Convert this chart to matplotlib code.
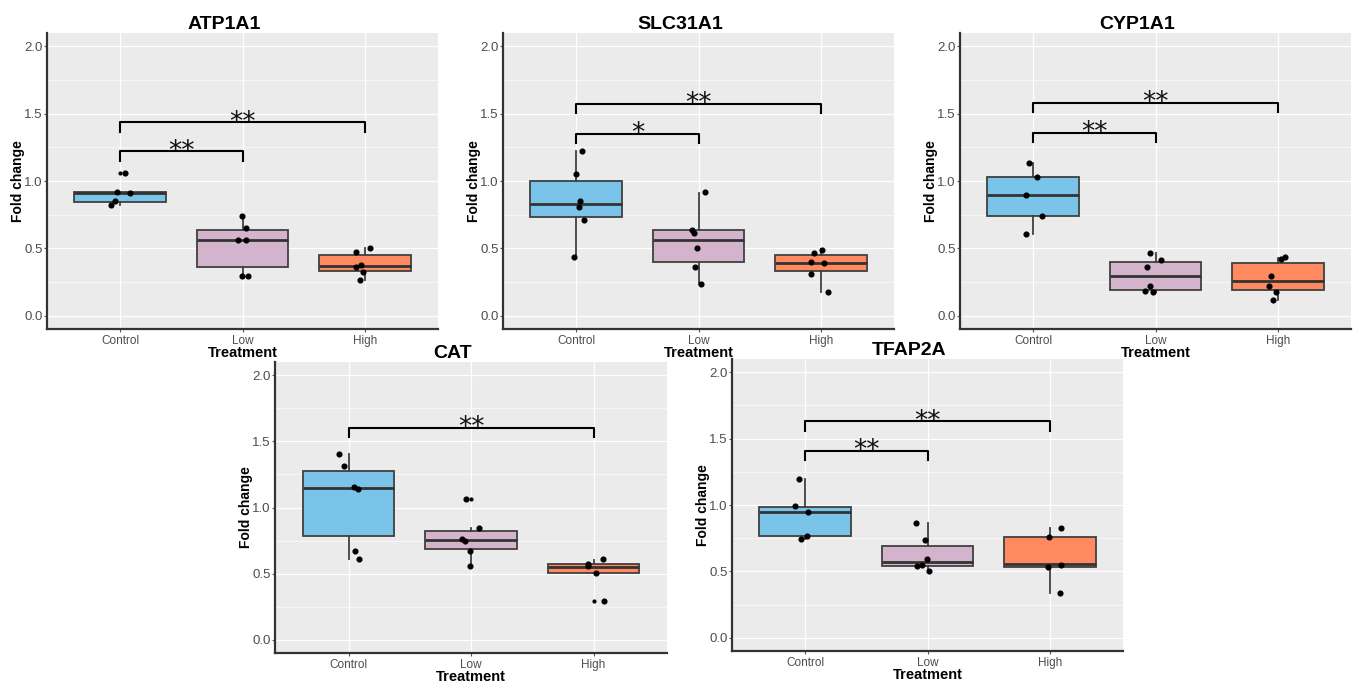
import numpy as np
import matplotlib
matplotlib.use('Agg')
import matplotlib.pyplot as plt
from matplotlib.ticker import MultipleLocator

plt.rcParams.update({
    'font.family': 'Liberation Sans',
    'font.size': 8,
})

groups = ['Control', 'Low', 'High']
colors = ['#79C4E8', '#D4B4CC', '#FF8A5F']

# box statistics: per gene, [Control, Low, High]
ATP1A1_q1 = [0.847, 0.361, 0.334]
ATP1A1_med = [0.910, 0.564, 0.369]
ATP1A1_q3 = [0.920, 0.636, 0.448]
ATP1A1_lo = [0.822, 0.292, 0.267]
ATP1A1_hi = [0.920, 0.738, 0.502]
ATP1A1_out = [[1.062], [], []]
ATP1A1_pts = [[1.062, 0.918, 0.913, 0.849, 0.822],
              [0.738, 0.653, 0.564, 0.559, 0.295, 0.295],
              [0.473, 0.502, 0.376, 0.359, 0.324, 0.262]]
ATP1A1_dx = [[0.035, -0.027, 0.08, -0.04, -0.08],
             [-0.008, 0.03, -0.033, 0.027, -0.008, 0.049],
             [-0.074, 0.041, -0.027, -0.074, -0.014, -0.041]]
ATP1A1_sig = [(0, 1, 1.22, '**'), (0, 2, 1.435, '**')]

SLC31A1_q1 = [0.735, 0.399, 0.332]
SLC31A1_med = [0.827, 0.564, 0.391]
SLC31A1_q3 = [0.998, 0.634, 0.448]
SLC31A1_lo = [0.436, 0.235, 0.178]
SLC31A1_hi = [1.220, 0.911, 0.495]
SLC31A1_out = [[], [], []]
SLC31A1_pts = [[1.225, 1.05, 0.849, 0.809, 0.71, 0.436],
               [0.916, 0.639, 0.614, 0.505, 0.364, 0.235],
               [0.465, 0.49, 0.396, 0.389, 0.312, 0.178]]
SLC31A1_dx = [[0.044, -0.005, 0.027, 0.022, 0.06, -0.019],
              [0.052, -0.057, -0.033, -0.014, -0.025, 0.019],
              [-0.052, 0.008, -0.079, 0.03, -0.079, 0.063]]
SLC31A1_sig = [(0, 1, 1.35, '*'), (0, 2, 1.576, '**')]

CYP1A1_q1 = [0.738, 0.188, 0.188]
CYP1A1_med = [0.898, 0.292, 0.257]
CYP1A1_q3 = [1.027, 0.401, 0.389]
CYP1A1_lo = [0.606, 0.173, 0.119]
CYP1A1_hi = [1.134, 0.465, 0.428]
CYP1A1_out = [[], [], []]
CYP1A1_pts = [[1.134, 1.027, 0.898, 0.74, 0.606],
              [0.465, 0.416, 0.361, 0.223, 0.181, 0.173],
              [0.423, 0.433, 0.295, 0.223, 0.178, 0.119]]
CYP1A1_dx = [[-0.033, 0.03, -0.063, 0.071, -0.063],
             [-0.046, 0.041, -0.068, -0.046, -0.084, -0.019],
             [0.025, 0.06, -0.057, -0.074, -0.011, -0.035]]
CYP1A1_sig = [(0, 1, 1.36, '**'), (0, 2, 1.58, '**')]

CAT_q1 = [0.788, 0.686, 0.508]
CAT_med = [1.145, 0.758, 0.553]
CAT_q3 = [1.274, 0.825, 0.570]
CAT_lo = [0.612, 0.555, 0.508]
CAT_hi = [1.403, 0.848, 0.605]
CAT_out = [[], [1.068], [0.29]]
CAT_pts = [[1.408, 1.316, 1.152, 1.138, 0.672, 0.612],
           [1.068, 0.848, 0.763, 0.748, 0.672, 0.555],
           [0.607, 0.570, 0.555, 0.506, 0.29]]
CAT_dx = [[-0.074, -0.038, 0.046, 0.079, 0.054, 0.087],
          [-0.038, 0.065, -0.074, -0.052, -0.011, -0.011],
          [0.076, -0.041, -0.041, 0.022, 0.082]]
CAT_sig = [(0, 2, 1.60, '**')]

TFAP2A_q1 = [0.766, 0.538, 0.533]
TFAP2A_med = [0.949, 0.570, 0.553]
TFAP2A_q3 = [0.986, 0.694, 0.758]
TFAP2A_lo = [0.745, 0.500, 0.335]
TFAP2A_hi = [1.195, 0.867, 0.823]
TFAP2A_out = [[], [], []]
TFAP2A_pts = [[1.195, 0.989, 0.949, 0.766, 0.741],
              [0.867, 0.734, 0.592, 0.54, 0.545, 0.50],
              [0.823, 0.758, 0.533, 0.548, 0.335]]
TFAP2A_dx = [[-0.052, -0.084, 0.025, 0.016, -0.038],
             [-0.095, -0.019, -0.008, -0.082, -0.041, 0.016],
             [0.093, -0.005, -0.016, 0.093, 0.082]]
TFAP2A_sig = [(0, 1, 1.41, '**'), (0, 2, 1.63, '**')]

panels = [
    ('ATP1A1', ATP1A1_q1, ATP1A1_med, ATP1A1_q3, ATP1A1_lo, ATP1A1_hi, ATP1A1_out, ATP1A1_pts, ATP1A1_dx, ATP1A1_sig),
    ('SLC31A1', SLC31A1_q1, SLC31A1_med, SLC31A1_q3, SLC31A1_lo, SLC31A1_hi, SLC31A1_out, SLC31A1_pts, SLC31A1_dx, SLC31A1_sig),
    ('CYP1A1', CYP1A1_q1, CYP1A1_med, CYP1A1_q3, CYP1A1_lo, CYP1A1_hi, CYP1A1_out, CYP1A1_pts, CYP1A1_dx, CYP1A1_sig),
    ('CAT', CAT_q1, CAT_med, CAT_q3, CAT_lo, CAT_hi, CAT_out, CAT_pts, CAT_dx, CAT_sig),
    ('TFAP2A', TFAP2A_q1, TFAP2A_med, TFAP2A_q3, TFAP2A_lo, TFAP2A_hi, TFAP2A_out, TFAP2A_pts, TFAP2A_dx, TFAP2A_sig),
]

W, H = 1356, 682
# axes boxes in pixels: left, top, right, bottom
boxes_px = [(47, 33, 438, 329), (503, 33, 894, 329), (960, 33, 1351, 329),
            (275, 362, 667, 653), (732, 359, 1123, 651)]

fig = plt.figure(figsize=(W / 100, H / 100), dpi=100)

for (name, q1, med, q3, lo, hi, out, pts, dx, sig), (l, t, r, b) in zip(panels, boxes_px):
    ax = fig.add_axes([l / W, 1 - b / H, (r - l) / W, (b - t) / H])
    ax.set_facecolor('#EBEBEB')
    ax.set_axisbelow(True)

    stats = []
    for i in range(3):
        stats.append(dict(q1=q1[i], med=med[i], q3=q3[i], whislo=lo[i], whishi=hi[i],
                          fliers=out[i], label=groups[i]))
    bp = ax.bxp(stats, positions=[1, 2, 3], widths=0.75, patch_artist=True, showcaps=False,
                boxprops=dict(edgecolor='#404040', linewidth=1.3),
                medianprops=dict(color='#333333', linewidth=2.0),
                whiskerprops=dict(color='#404040', linewidth=1.3),
                flierprops=dict(marker='o', markersize=2, markerfacecolor='black',
                                markeredgecolor='black'))
    for patch, c in zip(bp['boxes'], colors):
        patch.set_facecolor(c)

    for i in range(3):
        xs = np.array(dx[i]) + i + 1
        ax.plot(xs, pts[i], 'o', color='black', markersize=3.4, zorder=5)

    # significance brackets
    for g1, g2, y, lab in sig:
        ax.plot([g1 + 1, g1 + 1, g2 + 1, g2 + 1], [y - 0.07, y, y, y - 0.07],
                color='black', linewidth=1.5, zorder=4)
        ax.text((g1 + g2) / 2 + 1, y - 0.055, lab, ha='center', va='baseline',
                fontsize=19, family='DejaVu Sans', color='#111111')

    ax.set_xlim(0.4, 3.6)
    ax.set_ylim(-0.1, 2.1)
    ax.yaxis.set_minor_locator(MultipleLocator(0.25))
    ax.set_yticks([0, 0.5, 1.0, 1.5, 2.0])
    ax.set_yticklabels(['0.0', '0.5', '1.0', '1.5', '2.0'])
    ax.set_xticks([1, 2, 3])
    ax.set_xticklabels(groups)
    ax.grid(True, which='major', color='white', linewidth=0.9)
    ax.grid(True, which='minor', axis='y', color='white', linewidth=0.45)
    ax.tick_params(axis='both', which='major', length=2.5, width=0.8, color='#555555',
                   labelcolor='#4D4D4D', pad=2)
    ax.tick_params(axis='y', labelsize=9.5, pad=0.5)
    ax.tick_params(axis='x', labelsize=8.5)
    ax.tick_params(axis='y', which='minor', length=0)
    for s in ['top', 'right']:
        ax.spines[s].set_visible(False)
    for s in ['left', 'bottom']:
        ax.spines[s].set_linewidth(1.6)
        ax.spines[s].set_color('#333333')

    ax.set_title(name, fontsize=14, fontweight='bold', pad=3, x=0.454)
    ax.set_xlabel('Treatment', fontsize=10.5, fontweight='bold', labelpad=-1)
    ax.set_ylabel('Fold change', fontsize=10, fontweight='bold', labelpad=-0.5)

fig.savefig('out.png', dpi=100)
